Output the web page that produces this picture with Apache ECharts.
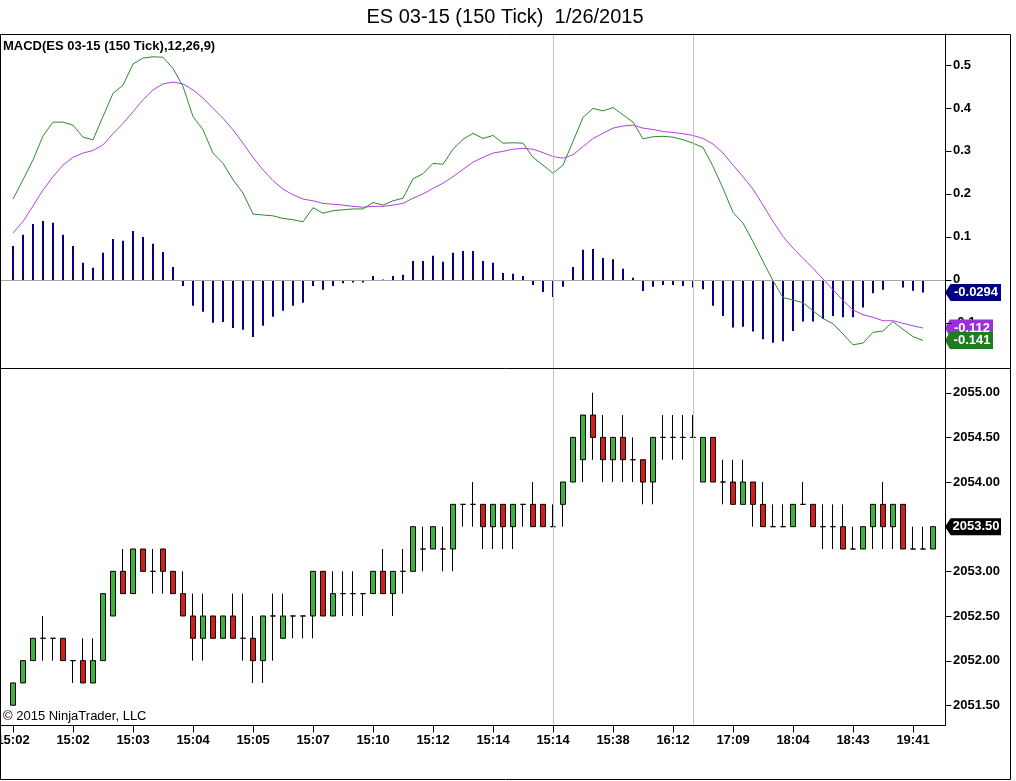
<!DOCTYPE html>
<html>
<head>
<meta charset="utf-8">
<script src="https://cdn.jsdelivr.net/npm/echarts@6/dist/echarts.min.js"></script>
<style>
  html, body { margin: 0; padding: 0; background: #fff; }
  #chart { width: 1016px; height: 781px; }
</style>
</head>
<body>
<div id="chart"></div>
<script>
// time labels under every 6th bar
const timeLabels = ['15:02', '15:02', '15:03', '15:04', '15:05', '15:07', '15:10', '15:12',
  '15:14', '15:14', '15:38', '16:12', '17:09', '18:04', '18:43', '19:41'];
const timeTicks = [0, 6, 12, 18, 24, 30, 36, 42, 48, 54, 60, 66, 72, 78, 84, 90];
const macdTicks = [-0.1, 0, 0.1, 0.2, 0.3, 0.4, 0.5];
const priceTicks = [2051.5, 2052, 2052.5, 2053, 2053.5, 2054, 2054.5, 2055];
const sessionBreaks = [54, 68];

// 150 tick bars
const open = [
  2051.50, 2051.75, 2052.00, 2052.25, 2052.25, 2052.25, 2052.00, 2052.00, 2051.75, 2052.00,
  2052.50, 2053.00, 2052.75, 2053.25, 2053.00, 2053.25, 2053.00, 2052.75, 2052.50, 2052.25,
  2052.50, 2052.25, 2052.50, 2052.25, 2052.25, 2052.00, 2052.50, 2052.25, 2052.50, 2052.50,
  2052.50, 2053.00, 2052.50, 2052.75, 2052.75, 2052.75, 2052.75, 2053.00, 2052.75, 2053.00,
  2053.00, 2053.25, 2053.25, 2053.25, 2053.25, 2053.75, 2053.75, 2053.75, 2053.50, 2053.75,
  2053.50, 2053.75, 2053.75, 2053.75, 2053.50, 2053.75, 2054.00, 2054.25, 2054.75, 2054.50,
  2054.25, 2054.50, 2054.25, 2054.25, 2054.00, 2054.50, 2054.50, 2054.50, 2054.50, 2054.00,
  2054.50, 2054.00, 2054.00, 2053.75, 2054.00, 2053.75, 2053.50, 2053.50, 2053.50, 2053.75,
  2053.75, 2053.50, 2053.50, 2053.50, 2053.25, 2053.25, 2053.50, 2053.75, 2053.50, 2053.75,
  2053.25, 2053.25, 2053.25
];
const close = [
  2051.75, 2052.00, 2052.25, 2052.25, 2052.25, 2052.00, 2052.00, 2051.75, 2052.00, 2052.75,
  2053.00, 2052.75, 2053.25, 2053.00, 2053.00, 2053.00, 2052.75, 2052.50, 2052.25, 2052.50,
  2052.25, 2052.50, 2052.25, 2052.25, 2052.00, 2052.50, 2052.50, 2052.50, 2052.50, 2052.50,
  2053.00, 2052.50, 2052.75, 2052.75, 2052.75, 2052.75, 2053.00, 2052.75, 2053.00, 2053.00,
  2053.50, 2053.25, 2053.50, 2053.25, 2053.75, 2053.75, 2053.75, 2053.50, 2053.75, 2053.50,
  2053.75, 2053.75, 2053.50, 2053.50, 2053.50, 2054.00, 2054.50, 2054.75, 2054.50, 2054.25,
  2054.50, 2054.25, 2054.25, 2054.00, 2054.50, 2054.50, 2054.50, 2054.50, 2054.50, 2054.50,
  2054.00, 2054.00, 2053.75, 2054.00, 2053.75, 2053.50, 2053.50, 2053.50, 2053.75, 2053.75,
  2053.50, 2053.50, 2053.50, 2053.25, 2053.25, 2053.50, 2053.75, 2053.50, 2053.75, 2053.25,
  2053.25, 2053.25, 2053.50
];
const low = [
  2051.50, 2051.75, 2052.00, 2052.00, 2052.00, 2052.00, 2051.75, 2051.75, 2051.75, 2052.00,
  2052.50, 2052.75, 2052.75, 2053.00, 2052.75, 2052.75, 2052.75, 2052.50, 2052.00, 2052.00,
  2052.25, 2052.25, 2052.25, 2052.00, 2051.75, 2051.75, 2052.00, 2052.25, 2052.25, 2052.25,
  2052.25, 2052.50, 2052.50, 2052.50, 2052.50, 2052.50, 2052.75, 2052.75, 2052.50, 2052.75,
  2053.00, 2053.00, 2053.25, 2053.00, 2053.00, 2053.50, 2053.50, 2053.25, 2053.25, 2053.25,
  2053.25, 2053.50, 2053.50, 2053.50, 2053.50, 2053.50, 2054.00, 2054.00, 2054.25, 2054.00,
  2054.00, 2054.00, 2054.00, 2053.75, 2053.75, 2054.25, 2054.25, 2054.25, 2054.50, 2054.00,
  2054.00, 2053.75, 2053.75, 2053.75, 2053.50, 2053.50, 2053.50, 2053.50, 2053.50, 2053.75,
  2053.50, 2053.25, 2053.25, 2053.25, 2053.25, 2053.25, 2053.25, 2053.25, 2053.25, 2053.25,
  2053.25, 2053.25, 2053.25
];
const high = [
  2051.75, 2052.00, 2052.25, 2052.50, 2052.25, 2052.25, 2052.00, 2052.25, 2052.25, 2052.75,
  2053.00, 2053.25, 2053.25, 2053.25, 2053.25, 2053.25, 2053.00, 2053.00, 2052.75, 2052.75,
  2052.50, 2052.50, 2052.75, 2052.75, 2052.50, 2052.50, 2052.75, 2052.75, 2052.50, 2052.50,
  2053.00, 2053.00, 2053.00, 2053.00, 2053.00, 2052.75, 2053.00, 2053.25, 2053.00, 2053.25,
  2053.50, 2053.50, 2053.50, 2053.50, 2053.75, 2053.75, 2054.00, 2053.75, 2053.75, 2053.75,
  2053.75, 2053.75, 2054.00, 2053.75, 2053.75, 2054.00, 2054.50, 2054.75, 2055.00, 2054.75,
  2054.50, 2054.75, 2054.50, 2054.25, 2054.50, 2054.75, 2054.75, 2054.75, 2054.75, 2054.50,
  2054.50, 2054.25, 2054.25, 2054.25, 2054.00, 2054.00, 2053.75, 2053.75, 2053.75, 2054.00,
  2053.75, 2053.75, 2053.75, 2053.75, 2053.50, 2053.50, 2053.75, 2054.00, 2053.75, 2053.75,
  2053.50, 2053.50, 2053.50
];

// MACD(12,26,9), last bar not yet computed
const macd = [
  0.188, 0.233, 0.279, 0.335, 0.367, 0.367, 0.360, 0.332, 0.326, 0.380, 0.434,
  0.453, 0.502, 0.516, 0.519, 0.518, 0.492, 0.450, 0.380, 0.349, 0.295, 0.271,
  0.233, 0.202, 0.153, 0.151, 0.149, 0.143, 0.140, 0.135, 0.168, 0.155, 0.161,
  0.163, 0.165, 0.165, 0.180, 0.174, 0.184, 0.190, 0.235, 0.247, 0.271, 0.269,
  0.304, 0.327, 0.341, 0.329, 0.336, 0.318, 0.319, 0.318, 0.285, 0.267, 0.248,
  0.267, 0.322, 0.378, 0.399, 0.393, 0.401, 0.384, 0.367, 0.328, 0.333, 0.334,
  0.332, 0.326, 0.318, 0.308, 0.264, 0.213, 0.157, 0.132, 0.089, 0.043, -0.002,
  -0.041, -0.047, -0.053, -0.072, -0.090, -0.102, -0.126, -0.151, -0.147, -0.122,
  -0.119, -0.097, -0.115, -0.132, -0.141
];
const macdAvg = [
  0.109, 0.136, 0.172, 0.209, 0.240, 0.267, 0.285, 0.295, 0.301, 0.314, 0.340,
  0.364, 0.391, 0.419, 0.442, 0.456, 0.460, 0.456, 0.442, 0.423, 0.399, 0.376,
  0.349, 0.318, 0.285, 0.256, 0.231, 0.211, 0.198, 0.188, 0.184, 0.178, 0.176,
  0.174, 0.171, 0.169, 0.171, 0.171, 0.174, 0.178, 0.190, 0.200, 0.213, 0.225,
  0.240, 0.257, 0.274, 0.285, 0.295, 0.299, 0.304, 0.306, 0.304, 0.296, 0.287,
  0.283, 0.291, 0.310, 0.329, 0.341, 0.353, 0.358, 0.360, 0.353, 0.350, 0.345,
  0.343, 0.340, 0.336, 0.329, 0.316, 0.295, 0.267, 0.240, 0.211, 0.174, 0.136,
  0.101, 0.074, 0.050, 0.027, 0.002, -0.023, -0.048, -0.070, -0.081, -0.087,
  -0.095, -0.095, -0.101, -0.107, -0.112
];
const macdDiff = [
  0.079, 0.105, 0.130, 0.137, 0.133, 0.105, 0.079, 0.040, 0.028, 0.063, 0.095,
  0.091, 0.114, 0.100, 0.084, 0.065, 0.030, -0.014, -0.060, -0.074, -0.100, -0.098,
  -0.112, -0.116, -0.133, -0.107, -0.086, -0.072, -0.060, -0.053, -0.014, -0.023, -0.014,
  -0.008, -0.006, -0.006, 0.009, 0.001, 0.009, 0.012, 0.044, 0.044, 0.056, 0.042,
  0.063, 0.067, 0.067, 0.044, 0.040, 0.016, 0.014, 0.009, -0.012, -0.028, -0.040,
  -0.016, 0.030, 0.070, 0.072, 0.051, 0.048, 0.026, 0.005, -0.026, -0.016, -0.012,
  -0.012, -0.014, -0.018, -0.022, -0.060, -0.084, -0.111, -0.109, -0.120, -0.138, -0.146,
  -0.143, -0.119, -0.097, -0.097, -0.091, -0.084, -0.087, -0.087, -0.064, -0.031,
  -0.023, -0.002, -0.018, -0.025, -0.0294
];

const FONT = '"Liberation Sans", Arial, sans-serif';
const X_MIN = -1.2;
const X_MAX = 93.2;
const MACD_MIN = -0.205;
const PRICE_MIN = 2051.279;

const chart = echarts.init(document.getElementById('chart'), null, { renderer: 'canvas' });

// value tag with arrow pointing at the price axis
function axisTag(y, text, color, w) {
  return {
    silent: true,
    animation: false,
    symbol: 'path://M0,6 L6,0 L60,0 L60,12 L6,12 Z',
    symbolKeepAspect: false,
    symbolSize: [w, 17],
    symbolOffset: [w / 2, 0],
    itemStyle: { color: color },
    label: {
      show: true, position: 'inside', formatter: text, offset: [3, 0],
      color: '#fff', fontFamily: FONT, fontWeight: 'bold', fontSize: 13
    },
    data: [{ coord: [X_MAX, y] }]
  };
}

function vLines() {
  return {
    silent: true, animation: false, symbol: 'none', label: { show: false },
    lineStyle: { color: '#c4c4c4', width: 1, type: 'solid' },
    data: sessionBreaks.map(v => ({ xAxis: v }))
  };
}

const idx = arr => arr.map((v, i) => [i, v]);
const candles = open.map((o, i) => [i, o, close[i], low[i], high[i]]);

const axisText = { color: '#000', fontFamily: FONT, fontWeight: 'bold', fontSize: 13 };

const baseGraphic = [
  {
    type: 'rect', silent: true, z: 10,
    shape: { x: 0.5, y: 34.5, width: 1010, height: 745 },
    style: { fill: 'none', stroke: '#000', lineWidth: 1 }
  },
  {
    type: 'line', silent: true, z: 10,
    shape: { x1: 0, y1: 368.5, x2: 1011, y2: 368.5 },
    style: { stroke: '#000', lineWidth: 1 }
  },
  {
    type: 'text', silent: true, z: 10, x: 505, y: 17,
    style: {
      text: 'ES 03-15 (150 Tick)  1/26/2015', fill: '#000', font: '20px ' + FONT,
      textAlign: 'center', textVerticalAlign: 'middle'
    }
  },
  {
    type: 'text', silent: true, z: 10, left: 3, top: 40,
    style: { text: 'MACD(ES 03-15 (150 Tick),12,26,9)', fill: '#000', font: 'bold 13px ' + FONT }
  },
  {
    type: 'text', silent: true, z: 10, left: 3, top: 710,
    style: { text: '\u00a9 2015 NinjaTrader, LLC', fill: '#000', font: '13px ' + FONT }
  }
];

chart.setOption({
  animation: false,
  backgroundColor: '#fff',
  grid: [
    { left: 1, right: 71, top: 34, height: 334, outerBoundsMode: 'none' },
    { left: 1, right: 71, top: 368, height: 357, outerBoundsMode: 'none' }
  ],
  xAxis: [
    {
      gridIndex: 0, type: 'value', min: X_MIN, max: X_MAX, show: false,
      splitLine: { show: false }
    },
    {
      gridIndex: 1, type: 'value', min: X_MIN, max: X_MAX,
      axisLine: { show: true, onZero: false, lineStyle: { color: '#000', width: 1 } },
      axisTick: { show: false },
      axisLabel: {
        ...axisText, margin: 9, customValues: timeTicks,
        formatter: v => timeLabels[timeTicks.indexOf(v)]
      },
      splitLine: { show: false }
    }
  ],
  yAxis: [
    {
      gridIndex: 0, type: 'value', position: 'right', min: MACD_MIN, max: 0.572,
      axisLine: { show: true, onZero: false, lineStyle: { color: '#000', width: 1 } },
      axisTick: { show: false },
      axisLabel: { ...axisText, margin: 8, customValues: macdTicks, formatter: v => String(v) },
      splitLine: { show: false }
    },
    {
      gridIndex: 1, type: 'value', position: 'right', min: PRICE_MIN, max: 2055.277,
      axisLine: { show: true, onZero: false, lineStyle: { color: '#000', width: 1 } },
      axisTick: { show: false },
      axisLabel: { ...axisText, margin: 8, customValues: priceTicks, formatter: v => v.toFixed(2) },
      splitLine: { show: false }
    }
  ],
  graphic: baseGraphic,
  series: [
    {
      name: 'Diff', type: 'bar', xAxisIndex: 0, yAxisIndex: 0,
      data: idx(macdDiff), barWidth: 2,
      itemStyle: { color: '#000080' },
      markLine: {
        silent: true, animation: false, symbol: 'none', label: { show: false },
        lineStyle: { color: '#a8a8a8', width: 1, type: 'solid' },
        data: [{ yAxis: 0 }]
      },
      markPoint: axisTag(macdDiff[macdDiff.length - 1],
        macdDiff[macdDiff.length - 1].toFixed(4), '#000080', 56)
    },
    {
      name: 'Avg', type: 'line', xAxisIndex: 0, yAxisIndex: 0,
      data: idx(macdAvg), symbol: 'none', z: 3,
      lineStyle: { color: '#b044e0', width: 1 },
      markLine: vLines(),
      markPoint: axisTag(macdAvg[macdAvg.length - 1],
        macdAvg[macdAvg.length - 1].toFixed(3), '#9a30d6', 48)
    },
    {
      name: 'MACD', type: 'line', xAxisIndex: 0, yAxisIndex: 0,
      data: idx(macd), symbol: 'none', z: 4,
      lineStyle: { color: '#2f8a2f', width: 1 },
      markPoint: axisTag(macd[macd.length - 1],
        macd[macd.length - 1].toFixed(3), '#1f7d1f', 48)
    },
    {
      name: 'ES', type: 'candlestick', xAxisIndex: 1, yAxisIndex: 1,
      data: candles, encode: { x: 0, y: [1, 2, 3, 4] },
      barWidth: 6,
      itemStyle: {
        color: '#3cb43c', color0: '#d41c1c',
        borderColor: '#000', borderColor0: '#000', borderColorDoji: '#000', borderWidth: 1
      },
      markLine: vLines(),
      markPoint: axisTag(close[close.length - 1],
        close[close.length - 1].toFixed(2), '#000', 56)
    }
  ]
});

// axis lines and tick marks placed through the axes' own scales
const seg = (x1, y1, x2, y2) => ({
  type: 'line', silent: true, z: 9,
  shape: { x1, y1, x2, y2 },
  style: { stroke: '#000', lineWidth: 1 }
});
const axisX = Math.round(chart.convertToPixel({ xAxisIndex: 0 }, X_MAX)) + 0.5;
const axisY = Math.round(chart.convertToPixel({ yAxisIndex: 1 }, PRICE_MIN)) + 0.5;
const ticks = [seg(axisX, 34, axisX, axisY)];
macdTicks.forEach(v => {
  const y = Math.round(chart.convertToPixel({ yAxisIndex: 0 }, v)) + 0.5;
  ticks.push(seg(axisX, y, axisX + 6, y));
});
priceTicks.forEach(v => {
  const y = Math.round(chart.convertToPixel({ yAxisIndex: 1 }, v)) + 0.5;
  ticks.push(seg(axisX, y, axisX + 6, y));
});
timeTicks.forEach(v => {
  const x = Math.round(chart.convertToPixel({ xAxisIndex: 1 }, v)) + 0.5;
  ticks.push(seg(x, axisY, x, axisY + 7));
});
chart.setOption({ graphic: baseGraphic.concat(ticks) });
</script>
</body>
</html>
